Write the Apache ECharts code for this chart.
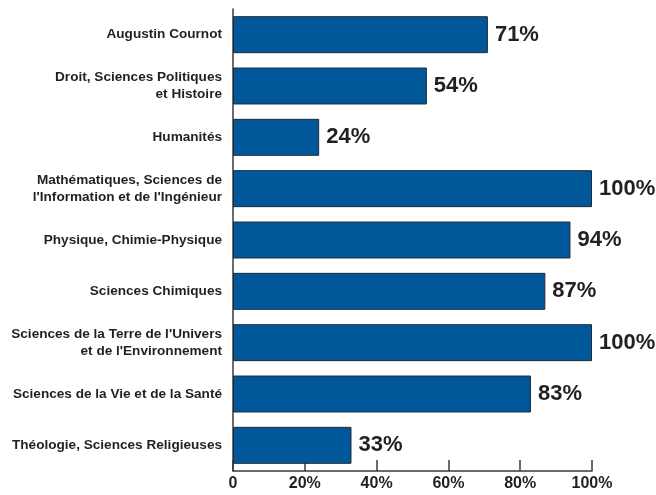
<!DOCTYPE html>
<html>
<head>
<meta charset="UTF-8" />
<script type="text/javascript" src="https://cdn.jsdelivr.net/npm/echarts@6/dist/echarts.min.js"></script>
<style>
  html, body { margin: 0; padding: 0; background: #fff; }
</style>
</head>
<body>
<div id="chartmain" style="width: 656px; height: 495px;"></div>
<script type="text/javascript">
// categories (top to bottom)
var categories = [
  'Augustin Cournot',
  'Droit, Sciences Politiques\net Histoire',
  'Humanités',
  'Mathématiques, Sciences de\nl\'Information et de l\'Ingénieur',
  'Physique, Chimie-Physique',
  'Sciences Chimiques',
  'Sciences de la Terre de l\'Univers\net de l\'Environnement',
  'Sciences de la Vie et de la Santé',
  'Théologie, Sciences Religieuses'
];
// share in percent
var values = [71, 54, 24, 100, 94, 87, 100, 83, 33];
// x tick labels
var xTicks = ['0', '20%', '40%', '60%', '80%', '100%'];

var font = '"Liberation Sans Narrow", "Liberation Sans", sans-serif';

var option = {
  animation: false,
  grid: { left: 233, right: 64, top: 9, bottom: 24, containLabel: false },
  xAxis: {
    type: 'value',
    min: 0,
    max: 100,
    interval: 20,
    axisLine: { show: true, lineStyle: { color: '#3a3a3a', width: 1.5 } },
    axisTick: { show: true, inside: true, length: 11, lineStyle: { color: '#3a3a3a', width: 1.5 } },
    splitLine: { show: false },
    axisLabel: {
      margin: 5,
      color: '#231f20',
      fontFamily: font,
      fontWeight: 'bold',
      fontSize: 16,
      formatter: function (v) { return xTicks[v / 20]; }
    }
  },
  yAxis: {
    type: 'category',
    inverse: true,
    data: categories,
    axisLine: { show: true, lineStyle: { color: '#3a3a3a', width: 1.5 } },
    axisTick: { show: false },
    axisLabel: {
      margin: 11,
      color: '#231f20',
      fontFamily: font,
      fontWeight: 'bold',
      fontSize: 13.6,
      lineHeight: 17,
      align: 'right'
    }
  },
  series: [{
    type: 'bar',
    data: values,
    barWidth: '72%',
    itemStyle: { color: '#00589b', borderColor: '#1f2a36', borderWidth: 1 },
    label: {
      show: true,
      position: 'right',
      distance: 7,
      color: '#231f20',
      fontFamily: font,
      fontWeight: 'bold',
      fontSize: 22,
      formatter: '{c}%'
    }
  }]
};

var myChart = echarts.init(document.getElementById('chartmain'));
myChart.setOption(option);
</script>
</body>
</html>
